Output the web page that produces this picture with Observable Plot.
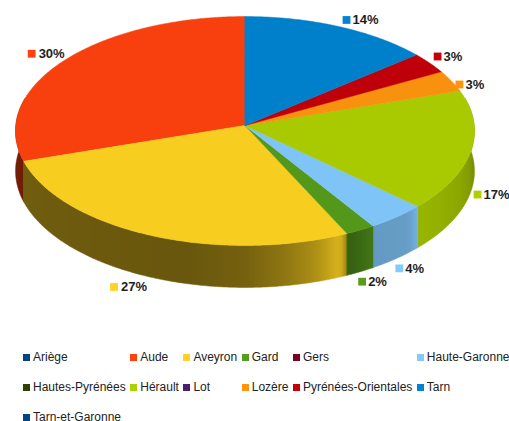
<!DOCTYPE html>
<html><head><meta charset="utf-8">
<script src="https://cdn.jsdelivr.net/npm/d3@7"></script>
<script src="https://cdn.jsdelivr.net/npm/@observablehq/plot@0.6"></script>
<style>
body{margin:0;background:#fff;font-family:"Liberation Sans",Arial,sans-serif;}
#legend{display:grid;grid-template-columns:repeat(6,max-content);column-gap:4.5px;padding-left:23px;}
.item{display:flex;align-items:center;height:30px;font-size:12px;color:#222;white-space:nowrap;}
.sw{width:7px;height:7px;margin-right:3px;flex:none;}
</style></head><body>
<div id="chart"></div><div id="legend"></div>
<script>
// ---- data ----
const departments = ["Ariège","Aude","Aveyron","Gard","Gers","Haute-Garonne","Hautes-Pyrénées","Hérault","Lot","Lozère","Pyrénées-Orientales","Tarn","Tarn-et-Garonne"];
const shares = [0, 30, 27, 2, 0, 4, 0, 17, 0, 3, 3, 14, 0];
const palette = ["#004586","#ff420e","#ffd320","#579d1c","#7e0021","#83caff","#314004","#aecf00","#4b1f6f","#ff950e","#c5000b","#0084d1","#004586"];

// ---- geometry / style ----
const W = 509, H = 342;
const cx = 244.5, cy = 125, A = 229.2, B = 114.2;
const k = 0.048;      // perspective strength
const depth = 0.35;   // wall height in unit radius of y
const step = Math.PI / 360;
const total = d3.sum(shares);

function proj(phi, down) {
  const u = Math.sin(phi), v = -Math.cos(phi);
  const s = 1 / (1 - k * v);
  return {x: u * s, y: v * s + down * depth * s};
}
const shadeKeys = [[90,0.68],[110,0.80],[131.5,0.88],[134.5,0.78],[146.5,0.76],[148.5,0.70],[153.5,0.60],[155.5,0.86],[162,0.68],[170,0.56],[180,0.46],[195,0.41],[270,0.45]];
function shade(phiDeg) {
  const d = ((phiDeg % 360) + 360) % 360;
  if (d <= shadeKeys[0][0]) return shadeKeys[0][1];
  for (let i = 1; i < shadeKeys.length; i++) {
    const [a, fa] = shadeKeys[i - 1], [b, fb] = shadeKeys[i];
    if (d <= b) return fa + (fb - fa) * (d - a) / (b - a);
  }
  return shadeKeys[shadeKeys.length - 1][1];
}
function scaleColor(c, f) {
  const r = d3.rgb(c);
  return d3.rgb(r.r * f, r.g * f, r.b * f).formatHex();
}

// slices counter-clockwise from 12 o'clock, in legend order
const slices = [];
let cum = 0;
departments.forEach((name, i) => {
  const a0 = -cum / total * 2 * Math.PI;
  cum += shares[i];
  const a1 = -cum / total * 2 * Math.PI;
  slices.push({name, value: shares[i], a0, a1, color: palette[i], idx: i});
});
const shown = slices.filter(d => d.value > 0);

// top faces
const topPts = [];
shown.forEach(d => {
  const col = scaleColor(d.color, 0.97);
  topPts.push({id: "t" + d.idx, x: 0, y: 0, color: col});
  const n = Math.max(2, Math.ceil(Math.abs(d.a1 - d.a0) / step));
  for (let j = 0; j <= n; j++) {
    const p = proj(d.a0 + (d.a1 - d.a0) * j / n, 0);
    topPts.push({id: "t" + d.idx, x: p.x, y: p.y, color: col});
  }
});

// side walls: one polygon per slice (front part), filled with a horizontal gradient
const walls = [];
shown.forEach(d => {
  const n = Math.max(2, Math.ceil(Math.abs(d.a1 - d.a0) / step));
  const angles = d3.range(n + 1).map(j => d.a0 + (d.a1 - d.a0) * j / n).filter(a => -Math.cos(a) > -0.25);
  if (angles.length < 2) return;
  const top = angles.map(a => proj(a, 0)), bot = angles.map(a => proj(a, 1)).reverse();
  const meanV = d3.mean(angles, a => -Math.cos(a));
  walls.push({idx: d.idx, color: d.color, meanV, pts: top.concat(bot)});
});
walls.sort((a, b) => a.meanV - b.meanV);

const gradientDefs = (index, scales) => {
  const ns = "http://www.w3.org/2000/svg";
  const xs = scales && scales.x ? scales.x : (v => cx + A * v);
  const defs = document.createElementNS(ns, "defs");
  walls.forEach(w => {
    const g = document.createElementNS(ns, "linearGradient");
    g.setAttribute("id", "wg" + w.idx);
    g.setAttribute("gradientUnits", "userSpaceOnUse");
    g.setAttribute("x1", xs(-1.0)); g.setAttribute("x2", xs(1.0));
    g.setAttribute("y1", 0); g.setAttribute("y2", 0);
    for (let i = 0; i <= 100; i++) {
      const u = -1 + 2 * i / 100;
      const phiDeg = 180 - Math.asin(Math.max(-1, Math.min(1, u))) * 180 / Math.PI;
      const st = document.createElementNS(ns, "stop");
      st.setAttribute("offset", i / 100);
      st.setAttribute("stop-color", scaleColor(w.color, shade(phiDeg)));
      g.appendChild(st);
    }
    defs.appendChild(g);
  });
  return defs;
};

const wallMarks = walls.map(w => Plot.line(w.pts, {x: "x", y: "y", fill: `url(#wg${w.idx})`, stroke: `url(#wg${w.idx})`, strokeWidth: 0.5, curve: "linear-closed"}));

// labels
const ctx = document.createElement("canvas").getContext("2d");
ctx.font = "bold 13px 'Liberation Sans'";
const labelMarks = shown.flatMap(d => {
  const mid = (d.a0 + d.a1) / 2;
  const u = Math.sin(mid), v = -Math.cos(mid);
  const p = proj(mid, v > 0 ? 1 : 0);
  const txt = `${Math.round(d.value / total * 100)}%`;
  const dy = v < -0.45 ? -6.5 : v < 0.5 ? 3.5 : 10;
  const datum = [{x: p.x, y: p.y, text: txt, color: d.color}];
  const textOpts = {x: "x", y: "y", text: "text", dy, fontSize: 13, fontWeight: "bold", fill: "#1e1e1e"};
  if (u >= 0) {
    const left = 4 - 7 * Math.max(0, v);
    return [
      Plot.dot(datum, {x: "x", y: "y", fill: "color", symbol: "square", r: 4.4, dx: left + 4, dy}),
      Plot.text(datum, {...textOpts, textAnchor: "start", dx: left + 10})
    ];
  } else {
    const end = -3 * Math.max(0, v);
    const w = ctx.measureText(txt).width;
    return [
      Plot.dot(datum, {x: "x", y: "y", fill: "color", symbol: "square", r: 4.4, dx: end - w - 3 - 4, dy}),
      Plot.text(datum, {...textOpts, textAnchor: "end", dx: end})
    ];
  }
});

const chart = Plot.plot({
  width: W, height: H,
  marginTop: 0, marginRight: 0, marginBottom: 0, marginLeft: 0,
  x: {domain: [-1, 1], range: [cx - A, cx + A], axis: null},
  y: {domain: [-1, 1], range: [cy - B, cy + B], axis: null},
  color: {type: "identity"},
  style: {fontFamily: "'Liberation Sans', Arial, sans-serif", background: "white"},
  marks: [
    gradientDefs,
    ...wallMarks,
    Plot.line(topPts, {x: "x", y: "y", z: "id", fill: "color", stroke: "color", strokeWidth: 0.5, curve: "linear-closed"}),
    ...labelMarks
  ]
});
document.getElementById("chart").appendChild(chart);

// legend
const legend = document.getElementById("legend");
departments.forEach((name, i) => {
  const item = document.createElement("div");
  item.className = "item";
  const sw = document.createElement("span");
  sw.className = "sw";
  sw.style.background = palette[i];
  item.appendChild(sw);
  item.appendChild(document.createTextNode(name));
  legend.appendChild(item);
});
</script>
</body></html>
